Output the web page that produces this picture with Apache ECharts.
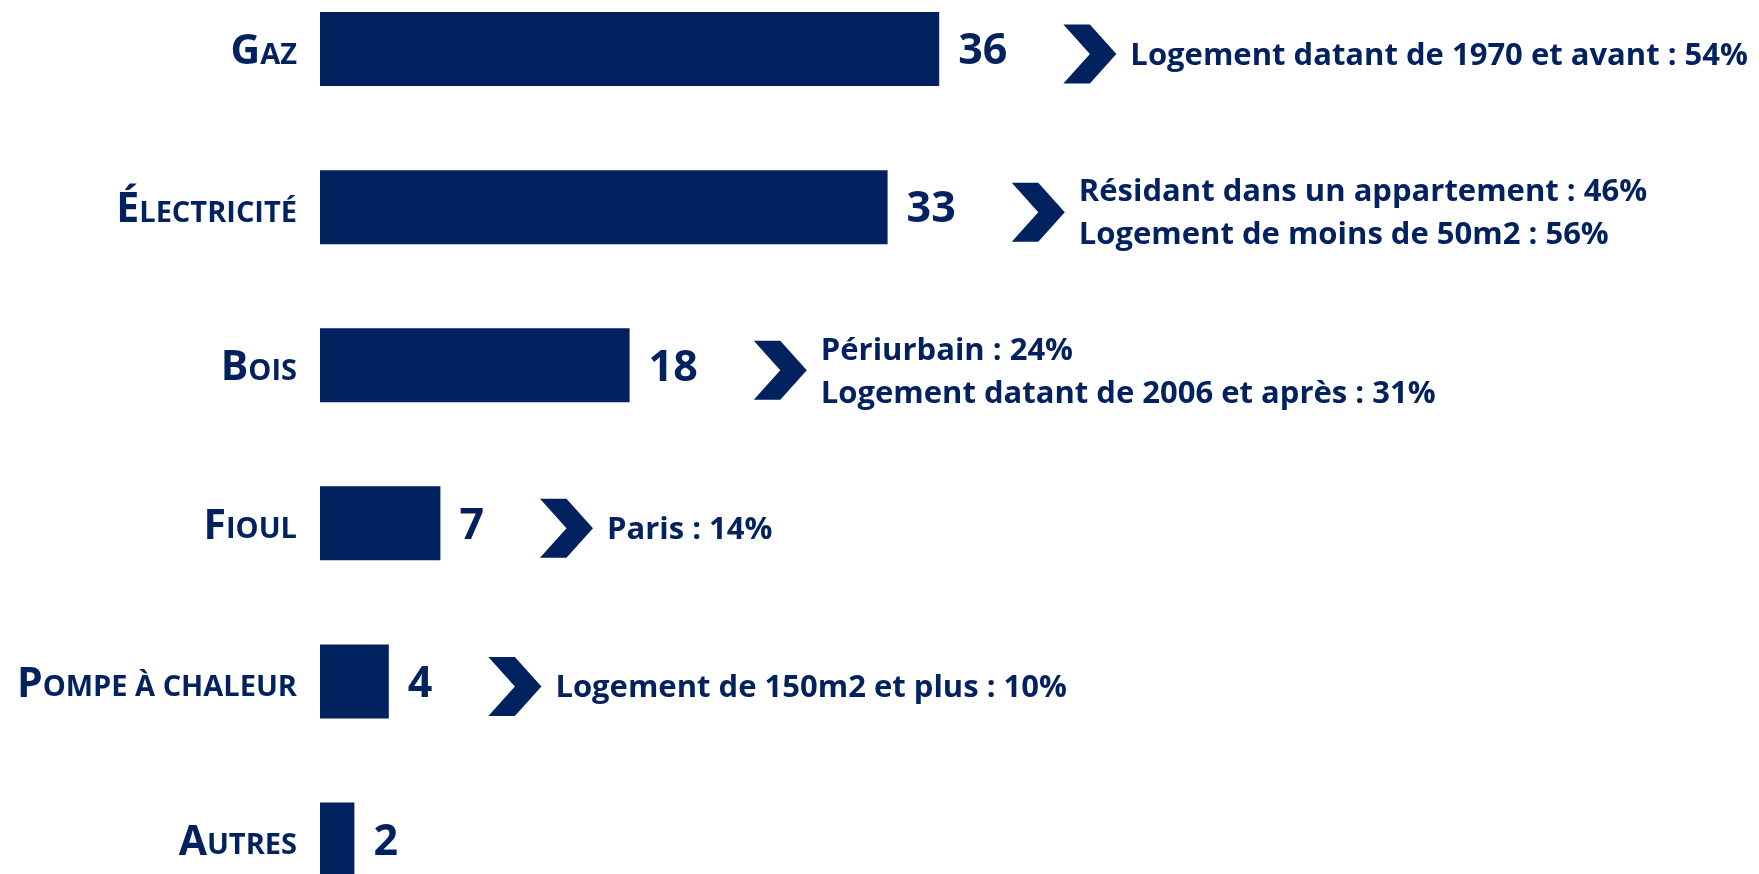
<!DOCTYPE html>
<html>
<head>
<meta charset="utf-8">
<style>
  html, body { margin: 0; padding: 0; background: #ffffff; overflow: hidden; width: 1759px; height: 874px; position: relative; }
  #chart { position: absolute; left: 0; top: -30px; width: 1759px; height: 950px; }
</style>
<script src="https://cdn.jsdelivr.net/npm/echarts@6/dist/echarts.min.js"></script>
</head>
<body>
<div id="chart"></div>
<script>
const categories = ['Gaz', 'Électricité', 'Bois', 'Fioul', 'Pompe à chaleur', 'Autres'];
const values = [36, 33, 18, 7, 4, 2];
const notes = [
  ['Logement datant de 1970 et avant : 54%'],
  ['Résidant dans un appartement : 46%', 'Logement de moins de 50m2 : 56%'],
  ['Périurbain : 24%', 'Logement datant de 2006 et après : 31%'],
  ['Paris : 14%'],
  ['Logement de 150m2 et plus : 10%'],
  []
];

const NAVY = '#02215F';
const FONT = '"Open Sans", "Noto Sans", sans-serif';
const VALUE_SIZE = 43;
const NOTE_SIZE = 31;

const measureCtx = document.createElement('canvas').getContext('2d');
function textWidth(t, size) {
  measureCtx.font = 'bold ' + size + 'px ' + FONT;
  return measureCtx.measureText(t).width;
}

const chart = echarts.init(document.getElementById('chart'), null, { renderer: 'canvas' });

const noteData = values.map((v, i) => ({ value: [v, i], lines: notes[i] }));

const option = {
  backgroundColor: '#ffffff',
  animation: false,
  grid: { left: 320, top: 0, width: 1376, height: 948.6, containLabel: false },
  xAxis: {
    type: 'value', min: 0, max: 80, show: false
  },
  yAxis: {
    type: 'category',
    data: categories,
    inverse: true,
    axisLine: { show: false },
    axisTick: { show: false },
    splitLine: { show: false },
    axisLabel: {
      margin: 23,
      formatter: function (name) {
        const up = name.toUpperCase();
        return '{a|' + up.charAt(0) + '}{b|' + up.slice(1) + '}';
      },
      rich: {
        a: { fontFamily: FONT, fontWeight: 'bold', fontSize: 41, color: NAVY, verticalAlign: 'bottom', lineHeight: 48 },
        b: { fontFamily: FONT, fontWeight: 'bold', fontSize: 29, color: NAVY, verticalAlign: 'bottom', lineHeight: 48, padding: [0, 0, 3, 0] }
      }
    }
  },
  series: [
    {
      type: 'bar',
      data: values,
      barWidth: 74,
      itemStyle: { color: NAVY },
      label: {
        show: true,
        position: 'right',
        distance: 19,
        color: NAVY,
        fontFamily: FONT,
        fontWeight: 'bold',
        fontSize: VALUE_SIZE,
        offset: [0, 3]
      },
      z: 2
    },
    {
      type: 'custom',
      coordinateSystem: 'cartesian2d',
      clip: false,
      data: noteData,
      encode: { x: 0, y: 1 },
      z: 3,
      renderItem: function (params, api) {
        const idx = params.dataIndex;
        const item = noteData[idx];
        if (!item.lines || !item.lines.length) return null;
        const v = api.value(0);
        const c = api.value(1);
        const p = api.coord([v, c]);
        const w = textWidth(String(v), VALUE_SIZE);
        const W = 53, H = 59;
        const x0 = p[0] + 19 + w + 56;
        const cy = p[1] + 5;
        const y0 = cy - H / 2;
        const pts = [
          [x0, y0], [x0 + W * 0.5, y0], [x0 + W, cy],
          [x0 + W * 0.5, y0 + H], [x0, y0 + H], [x0 + W * 0.5, cy]
        ];
        return {
          type: 'group',
          children: [
            { type: 'polygon', shape: { points: pts }, style: { fill: NAVY } },
            {
              type: 'text',
              style: {
                x: x0 + W + 14,
                y: p[1] + 7,
                text: item.lines.join('\n'),
                fill: NAVY,
                font: 'bold ' + NOTE_SIZE + 'px ' + FONT,
                lineHeight: 43,
                verticalAlign: 'middle',
                align: 'left'
              }
            }
          ]
        };
      }
    }
  ]
};

chart.setOption(option);
</script>
</body>
</html>
